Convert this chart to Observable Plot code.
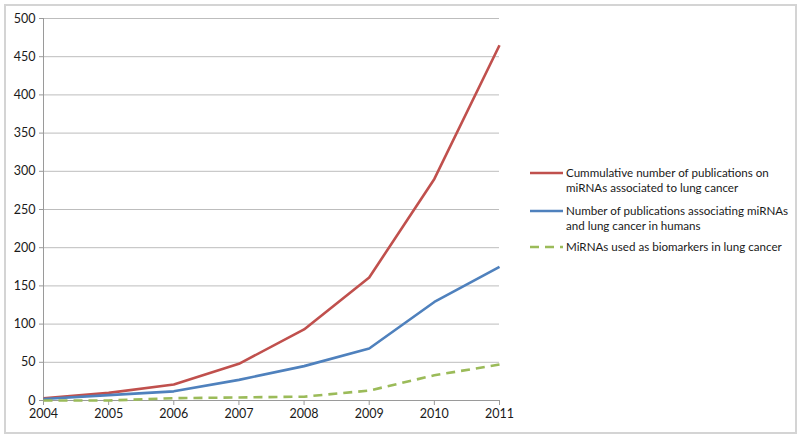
<!DOCTYPE html>
<html>
<head>
<meta charset="utf-8">
<script src="https://cdn.jsdelivr.net/npm/d3@7"></script>
<script src="https://cdn.jsdelivr.net/npm/@observablehq/plot@0.6"></script>
<style>
  html, body { margin: 0; padding: 0; background: #fff; }
  #wrap { position: relative; width: 800px; height: 436px; overflow: hidden; font-family: Lato, "Open Sans", sans-serif; }
  #frame { position: absolute; left: 4px; top: 4px; width: 789px; height: 426px; border: 2px solid #d4d4d4; box-sizing: content-box; pointer-events: none; }
  #chart { position: absolute; left: 0; top: 0; }
  #legend { position: absolute; left: 530px; top: 0; font-size: 11.6px; color: #1a1a1a; line-height: 15px; }
  .item { position: absolute; left: 0; width: 270px; }
  .item svg { position: absolute; left: 0; }
  .item .lbl { position: absolute; left: 36px; white-space: nowrap; }
</style>
</head>
<body>
<div id="wrap">
  <div id="chart"></div>
  <div id="legend"></div>
  <div id="frame"></div>
</div>
<script>
const years = [2004, 2005, 2006, 2007, 2008, 2009, 2010, 2011];
const cumulative = [3, 10, 21, 48, 93, 161, 290, 465];
const humans = [2, 7, 12, 27, 45, 68, 129, 175];
const biomarkers = [0, 0, 3, 4, 5, 13, 33, 47];
const yTicks = [0, 50, 100, 150, 200, 250, 300, 350, 400, 450, 500];
const seriesNames = [
  ["Cummulative number of publications on", "miRNAs associated to lung cancer"],
  ["Number of publications associating miRNAs", "and lung cancer in humans"],
  ["MiRNAs used as biomarkers in lung cancer"]
];
const colors = ["#C0504D", "#4F81BD", "#9BBB59"];
const dashes = [null, null, "9,6"];

const seriesValues = [cumulative, humans, biomarkers];
const data = seriesValues.flatMap((vals, i) => years.map((yr, j) => ({year: yr, value: vals[j], s: i})));

const chart = Plot.plot({
  width: 800,
  height: 436,
  marginLeft: 43,
  marginRight: 301,
  marginTop: 18,
  marginBottom: 36,
  style: {fontFamily: "Lato, 'Open Sans', sans-serif", fontSize: "12px", color: "#1a1a1a", background: "transparent"},
  x: {domain: [2004, 2011]},
  y: {domain: [0, 500]},
  marks: [
    Plot.ruleY(yTicks.filter(d => d > 0), {stroke: "#bdbdbd", strokeWidth: 1}),
    Plot.ruleX([2004], {stroke: "#9a9a9a", strokeWidth: 1}),
    Plot.ruleY([0], {stroke: "#9a9a9a", strokeWidth: 1}),
    Plot.axisY({ticks: yTicks, tickSize: 4, tickPadding: 4, stroke: "#9a9a9a", label: null, fontSize: 12.5}),
    Plot.axisX({ticks: years, tickSize: 5, tickPadding: 4, tickFormat: d => String(d), stroke: "#9a9a9a", label: null, fontSize: 12.5}),
    ...seriesValues.map((vals, i) => Plot.line(data.filter(d => d.s === i), {
      x: "year", y: "value", stroke: colors[i], strokeWidth: 2.6,
      strokeDasharray: dashes[i] || undefined, strokeLinecap: "butt", strokeLinejoin: "round"
    }))
  ]
});
document.getElementById("chart").appendChild(chart);

const legend = document.getElementById("legend");
const tops = [165, 203, 239];
seriesNames.forEach((lines, i) => {
  const item = document.createElement("div");
  item.className = "item";
  item.style.top = tops[i] + "px";
  const dash = dashes[i] ? `stroke-dasharray="9,6"` : "";
  item.innerHTML = `<svg width="34" height="15" style="top:0"><line x1="0" x2="33" y1="8" y2="8" stroke="${colors[i]}" stroke-width="2.6" ${dash}/></svg>` +
    `<div class="lbl" style="top:0">${lines.join("<br>")}</div>`;
  legend.appendChild(item);
});
</script>
</body>
</html>
